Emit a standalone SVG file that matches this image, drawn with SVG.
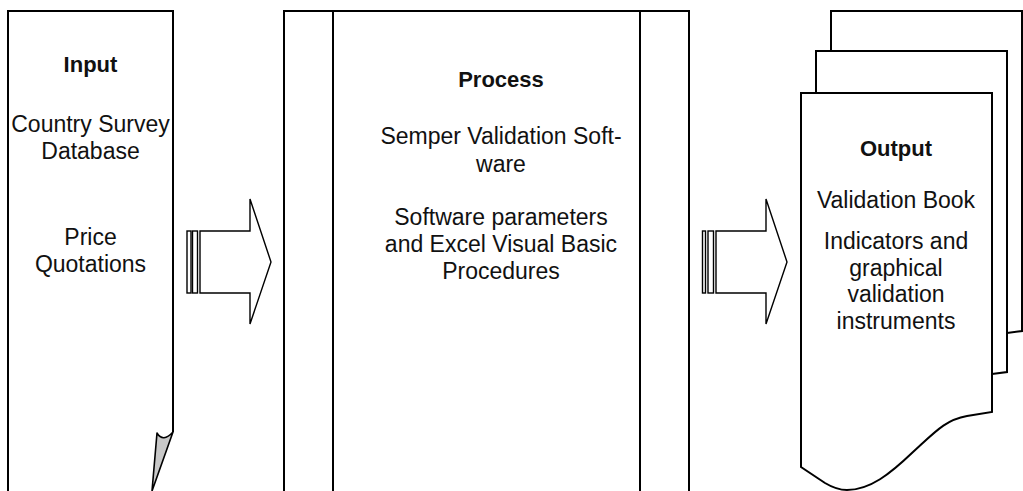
<svg xmlns="http://www.w3.org/2000/svg" width="1023" height="491" viewBox="0 0 1023 491">
<style>
.ln{fill:none;stroke:#000;stroke-width:2;stroke-linejoin:miter}
.pg{fill:#fff;stroke:#000;stroke-width:2;stroke-linejoin:miter}
.ar{fill:#fff;stroke:#000;stroke-width:1.4}
text{font-family:"Liberation Sans",Arial,Helvetica,sans-serif;font-size:23px;fill:#111;text-anchor:middle}
.t{font-weight:bold;font-size:22px}
</style>
<rect width="1023" height="491" fill="#fff"/>
<g id="input">
<path class="ln" d="M8,495 V11 H173 V432"/>
<path d="M157,433 Q163,443 173,432 L152,491 Z" fill="#c8c8c8" stroke="#000" stroke-width="1.6" stroke-linejoin="round"/>
<text class="t" x="90.5" y="72">Input</text>
<text x="90.5" y="131.5">Country Survey</text>
<text x="90.5" y="158.5">Database</text>
<text x="90.5" y="245">Price</text>
<text x="90.5" y="272">Quotations</text>
</g>
<g id="process">
<path class="ln" d="M284,495 V11 H689 V495"/>
<line class="ln" x1="333" y1="11" x2="333" y2="495" stroke="#222"/>
<line class="ln" x1="640" y1="11" x2="640" y2="495" stroke="#222"/>
<text class="t" x="501" y="87">Process</text>
<text x="501" y="143.5">Semper Validation Soft-</text>
<text x="501" y="171.5">ware</text>
<text x="501" y="224.5">Software parameters</text>
<text x="501" y="251.5">and Excel Visual Basic</text>
<text x="501" y="278.5">Procedures</text>
</g>
<g id="output">
<path class="pg" d="M831,11 H1022 V331 L1007,333 H831 Z"/>
<path class="pg" d="M816,51 H1007 V372 L992,374 H816 Z"/>
<path class="pg" d="M801,93 H992 V412 L967,416 C945,420 935,432 913,452 C890,474 870,490 847,490 C838,490 830,486 825,483 L801,467 Z"/>
<text class="t" x="896" y="156">Output</text>
<text x="896" y="207.5">Validation Book</text>
<text x="896" y="248.5">Indicators and</text>
<text x="896" y="275.5">graphical</text>
<text x="896" y="302">validation</text>
<text x="896" y="328.5">instruments</text>
</g>
<g id="connectors">
<g id="arrow1">
<rect class="ar" x="187" y="231" width="4" height="62"/>
<rect class="ar" x="192.5" y="231" width="5" height="62"/>
<path class="ar" d="M200,231 H250 V199 L271,262 L250,324 V293 H200 Z"/>
</g>
<g id="arrow2">
<rect class="ar" x="702.5" y="231" width="3" height="62"/>
<rect class="ar" x="708" y="231" width="5.5" height="62"/>
<path class="ar" d="M716,231 H766 V199 L787,262 L766,324 V293 H716 Z"/>
</g>
</g>
</svg>
